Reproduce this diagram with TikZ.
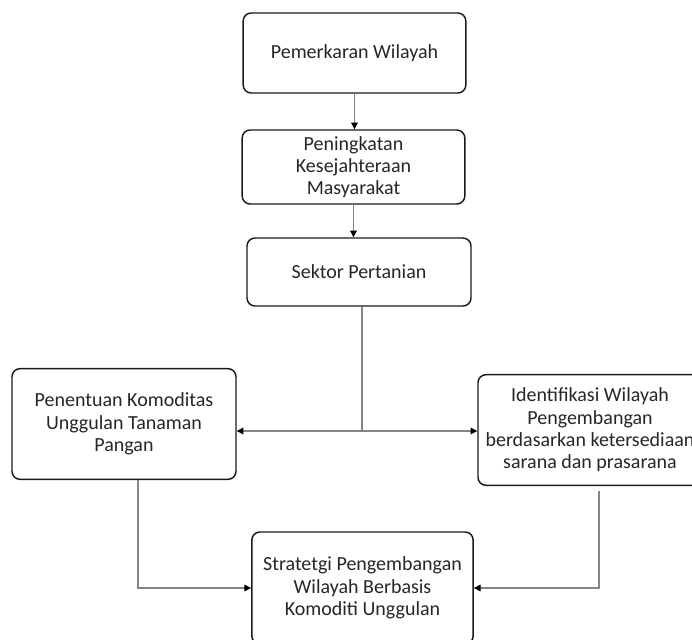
\documentclass[tikz,border=0pt]{standalone}
\usepackage{fontspec}
\setmainfont{Carlito}
\usepackage{tikz}
\usetikzlibrary{calc,arrows.meta}
\definecolor{ink}{HTML}{262626}
\definecolor{edge}{HTML}{1A1A1A}
\definecolor{wire}{HTML}{858585}
\tikzset{
  flowBox/.style={draw=edge, line width=1.1pt, rounded corners=6pt, align=center,
    text=ink, font=\fontsize{15}{16.7}\selectfont, minimum width=168pt, inner sep=0pt},
  link/.style={draw=wire, line width=0.8pt, -{Triangle[length=5pt,width=5pt,color=black]}},
  plainLink/.style={draw=wire, line width=0.8pt},
}

\begin{document}
\begin{tikzpicture}[x=0.75pt,y=-0.75pt]
  \useasboundingbox (0,0) rectangle (692,639);
  \clip (0,0) rectangle (692,639);

  \node[flowBox, minimum width=167pt, minimum height=60pt] (pemekaran) at (354.5,53) {Pemerkaran Wilayah};
  \node[flowBox, minimum width=167pt, minimum height=55.5pt] (kesejahteraan) at (353.5,167)
    {Peningkatan\\Kesejahteraan\\Masyarakat};
  \node[flowBox, minimum height=51pt] (pertanian) at (359,272) {Sektor Pertanian};

  \node[flowBox, minimum height=83pt] (komoditas) at (124,424)
    {Penentuan Komoditas\\Unggulan Tanaman\\Pangan};
  \node[flowBox, minimum height=83pt] (identifikasi) at (590,430)
    {Identifikasi Wilayah\\Pengembangan\\berdasarkan ketersediaan\\sarana dan prasarana};

  \node[flowBox, minimum width=166pt, minimum height=84pt] (strategi) at (362.5,588)
    {Stratetgi Pengembangan\\Wilayah Berbasis\\Komoditi Unggulan};

  % alur utama
  \draw[link] (pemekaran.south) -- (pemekaran.south |- kesejahteraan.north);
  \draw[link] (kesejahteraan.south) -- (kesejahteraan.south |- pertanian.north);

  % percabangan
  \coordinate (cabang) at (362,431);
  \draw[plainLink] (pertanian.south -| cabang) -- (cabang);
  \draw[link] (cabang) -- (cabang -| komoditas.east);
  \draw[link] (cabang) -- (cabang -| identifikasi.west);

  % menuju strategi
  \draw[link] ($(komoditas.south)+(14,0)$) |- (strategi.west);
  \draw[link] ($(identifikasi.south)+(9,5)$) |- (strategi.east);
\end{tikzpicture}
\end{document}
